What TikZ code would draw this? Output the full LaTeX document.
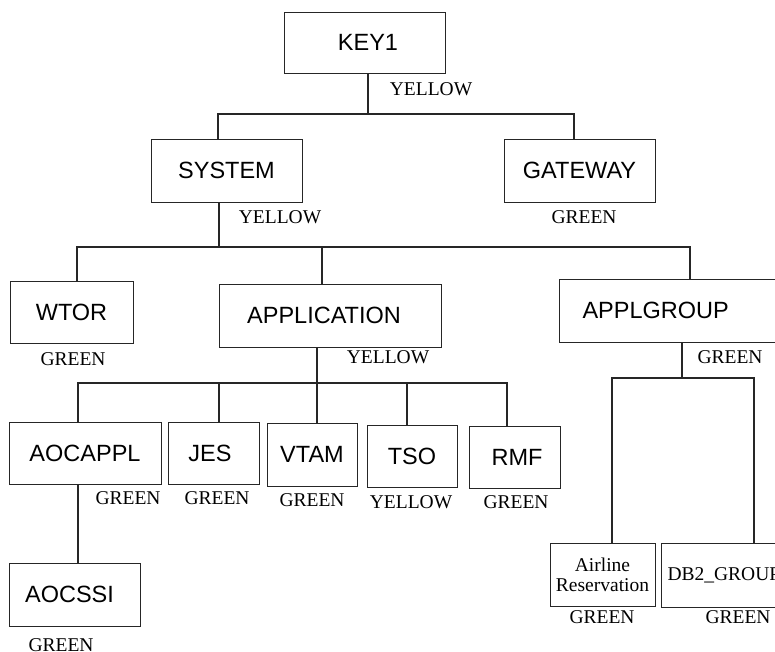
\documentclass[tikz,border=0pt]{standalone}
\usepackage{fontspec}
\setmainfont{Liberation Serif}
\newfontfamily\boxfont{Liberation Sans}
\begin{document}
\begin{tikzpicture}[x=1pt,y=-1pt,
  objbox/.style={draw=black!85,line width=1pt,inner sep=0pt,font=\boxfont\fontsize{23.5}{26}\selectfont},
  colour/.style={font=\fontsize{19.5}{20}\selectfont,inner sep=0pt},
  link/.style={draw=black!85,line width=1.8pt}]
\useasboundingbox (0,0) rectangle (775,651);
\clip (0,0) rectangle (775,651);
\fill[white] (0,0) rectangle (775,651);
% boxes
\node[objbox,minimum width=161,minimum height=61] (key1) at (364.5,42.5) {\hspace*{7pt}KEY1};
\node[objbox,minimum width=151,minimum height=63] (system) at (226.5,170.5) {SYSTEM};
\node[objbox,minimum width=151,minimum height=63] (gateway) at (579.5,170.5) {GATEWAY};
\node[objbox,minimum width=123,minimum height=62] (wtor) at (71.5,312) {WTOR};
\node[objbox,minimum width=222,minimum height=63] (application) at (330,315.5) {\hspace*{-12pt}APPLICATION};
\node[objbox,anchor=west,inner xsep=23pt,text width=200pt,align=left,minimum height=63] (applgroup) at (559,310.5) {APPLGROUP};
\node[objbox,minimum width=152,minimum height=62] (aocappl) at (85,453) {AOCAPPL};
\node[objbox,minimum width=91,minimum height=62] (jes) at (213.5,453) {\hspace*{-7pt}JES};
\node[objbox,minimum width=90,minimum height=63] (vtam) at (312,454.5) {VTAM};
\node[objbox,minimum width=90,minimum height=62] (tso) at (412,456) {TSO};
\node[objbox,minimum width=91,minimum height=62] (rmf) at (514.5,457) {\hspace*{5pt}RMF};
\node[objbox,minimum width=131,minimum height=63] (aocssi) at (74.5,594.5) {\hspace*{-10pt}AOCSSI};
\node[objbox,minimum width=105,minimum height=63,align=center,font=\fontsize{19.5}{20}\selectfont] (airline) at (602.5,574.5) {Airline\\Reservation};
\node[objbox,anchor=west,inner xsep=6pt,text width=140pt,align=left,minimum height=64,font=\fontsize{19.5}{20}\selectfont] (db2) at (661,575) {DB2\_GROUP};
% colour labels
\node[colour] (ckey1) at (431,89) {YELLOW};
\node[colour] (csystem) at (280,217) {YELLOW};
\node[colour] (cgateway) at (584,217) {GREEN};
\node[colour] (cwtor) at (73,359) {GREEN};
\node[colour] (capplication) at (388,357) {YELLOW};
\node[colour] (capplgroup) at (730,357) {GREEN};
\node[colour] (caocappl) at (128,498) {GREEN};
\node[colour] (cjes) at (217,498) {GREEN};
\node[colour] (cvtam) at (312,500) {GREEN};
\node[colour] (ctso) at (411,502) {YELLOW};
\node[colour] (crmf) at (516,502) {GREEN};
\node[colour] (caocssi) at (61,645) {GREEN};
\node[colour] (cairline) at (602,617) {GREEN};
\node[colour] (cdb2) at (738,617) {GREEN};
% buses
\coordinate (b1) at ([xshift=3.5pt]key1.south |- 0,114);
\coordinate (b2) at ([xshift=-7.5pt]system.south |- 0,247);
\coordinate (b3) at ([xshift=-13pt]application.south |- 0,383);
\coordinate (b4) at (682,378);
% connectors
\draw[link] ([xshift=3.5pt]key1.south) -- (b1);
\draw[link] ([xshift=-8.5pt]system.north) |- (b1) -| ([xshift=-5.5pt]gateway.north);
\draw[link] ([xshift=-7.5pt]system.south) -- (b2);
\draw[link] ([xshift=5.5pt]wtor.north) |- (b2) -| (690,0 |- applgroup.north);
\draw[link] ([xshift=-8pt]application.north) -- ([xshift=-8pt]application.north |- b2);
\draw[link] ([xshift=-13pt]application.south) -- (b3);
\draw[link] ([xshift=-7pt]aocappl.north) |- (b3) -| ([xshift=-7.5pt]rmf.north);
\draw[link] ([xshift=5.5pt]jes.north) -- ([xshift=5.5pt]jes.north |- b3);
\draw[link] ([xshift=5pt]vtam.north) -- ([xshift=5pt]vtam.north |- b3);
\draw[link] ([xshift=-5pt]tso.north) -- ([xshift=-5pt]tso.north |- b3);
\draw[link] ([xshift=-7pt]aocappl.south) -- ([xshift=-7pt]aocappl.south |- aocssi.north);
\draw[link] (b4 |- applgroup.south) -- (b4);
\draw[link] ([xshift=9.5pt]airline.north) |- (b4) -| (754,0 |- db2.north);
\end{tikzpicture}
\end{document}
